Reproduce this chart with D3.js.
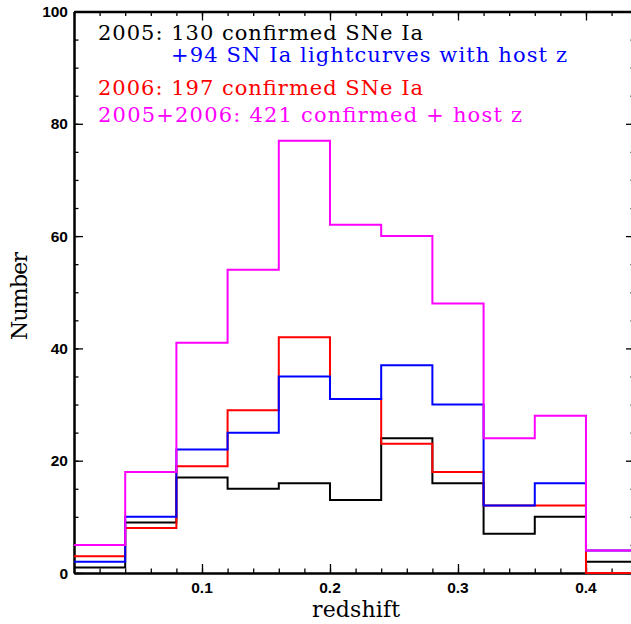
<!DOCTYPE html>
<html>
<head>
<meta charset="utf-8">
<script src="https://cdn.jsdelivr.net/npm/d3@7"></script>
<style>
  html, body { margin: 0; padding: 0; background: #fff; }
  svg { display: block; }
</style>
</head>
<body>
<svg id="chart" width="631" height="624"></svg>
<script>
// ---- data ----
const binEdges = [0, 0.04, 0.08, 0.12, 0.16, 0.20, 0.24, 0.28, 0.32, 0.36, 0.40, 0.44];
const black2005 = [1, 9, 17, 15, 16, 13, 24, 16, 7, 10, 2];
const red2006 = [3, 8, 19, 29, 42, 31, 23, 18, 12, 12, 0];
const blue2005host = [2, 10, 22, 25, 35, 31, 37, 30, 12, 16, 4];
const magentaAll = [5, 18, 41, 54, 77, 62, 60, 48, 24, 28, 4];
const xTickLabels = ["0.1", "0.2", "0.3", "0.4"];
const xTickValues = [0.1, 0.2, 0.3, 0.4];
const yTickValues = [0, 20, 40, 60, 80, 100];
const legendLines = [
  "2005: 130 confirmed SNe Ia",
  "+94 SN Ia lightcurves with host z",
  "2006: 197 confirmed SNe Ia",
  "2005+2006: 421 confirmed + host z"
];

// ---- layout ----
const L = 74, R = 635, T = 11.5, B = 573;
const svg = d3.select("#chart");
const x = d3.scaleLinear().domain([0, 0.4383]).range([L, R]);
const y = d3.scaleLinear().domain([0, 100]).range([B, T]);

svg.append("defs").append("clipPath").attr("id", "clip")
  .append("rect").attr("x", L).attr("y", T).attr("width", R - L).attr("height", B - T + 2);

// ---- axes with inward ticks ----
const tickFont = "bold 15.5px 'Liberation Sans', Arial, sans-serif";
function styleAxis(g) {
  g.selectAll("path.domain").attr("stroke", "#000").attr("stroke-width", 2.5);
  g.selectAll(".tick line").attr("stroke", "#000").attr("stroke-width", 1.3);
}
const xMinor = d3.range(0, 0.44, 0.02);
const yMinor = d3.range(0, 101, 5);

// bottom
const gB = svg.append("g").attr("transform", `translate(0,${B})`);
gB.call(d3.axisTop(x).tickValues(xMinor).tickSize(4.5).tickFormat("").tickSizeOuter(0)).call(styleAxis);
gB.append("g").call(d3.axisTop(x).tickValues(xTickValues).tickSize(9).tickFormat("").tickSizeOuter(0))
  .call(g => g.select("path.domain").remove()).call(styleAxis);
gB.selectAll("text.xl").data(xTickValues).enter().append("text")
  .attr("class", "xl").attr("x", d => x(d)).attr("y", 19.5)
  .attr("text-anchor", "middle").style("font", tickFont).attr("fill", "#000")
  .text((d, i) => xTickLabels[i]);

// top
const gT = svg.append("g").attr("transform", `translate(0,${T})`);
gT.call(d3.axisBottom(x).tickValues(xMinor).tickSize(4.5).tickFormat("").tickSizeOuter(0)).call(styleAxis);
gT.append("g").call(d3.axisBottom(x).tickValues(xTickValues).tickSize(9).tickFormat("").tickSizeOuter(0))
  .call(g => g.select("path.domain").remove()).call(styleAxis);

// left
const gL = svg.append("g").attr("transform", `translate(${L},0)`);
gL.call(d3.axisRight(y).tickValues(yMinor).tickSize(4.5).tickFormat("").tickSizeOuter(0)).call(styleAxis);
gL.append("g").call(d3.axisRight(y).tickValues(yTickValues).tickSize(9).tickFormat("").tickSizeOuter(0))
  .call(g => g.select("path.domain").remove()).call(styleAxis);
gL.selectAll("text.yl").data(yTickValues).enter().append("text")
  .attr("class", "yl").attr("x", -6).attr("y", d => y(d)).attr("dy", "0.36em")
  .attr("text-anchor", "end").style("font", tickFont).attr("fill", "#000")
  .text(d => d);

// right
const gR = svg.append("g").attr("transform", `translate(${R},0)`);
gR.call(d3.axisLeft(y).tickValues(yMinor).tickSize(4.5).tickFormat("").tickSizeOuter(0)).call(styleAxis);
gR.append("g").call(d3.axisLeft(y).tickValues(yTickValues).tickSize(9).tickFormat("").tickSizeOuter(0))
  .call(g => g.select("path.domain").remove()).call(styleAxis);

// ---- histograms (step lines) ----
const line = d3.line().x(d => x(d[0])).y(d => y(d[1])).curve(d3.curveStepAfter);
function steps(vals) {
  const pts = vals.map((v, i) => [binEdges[i], v]);
  pts.push([binEdges[binEdges.length - 1], vals[vals.length - 1]]);
  return pts;
}
const series = [
  { vals: black2005, color: "#000000" },
  { vals: red2006, color: "#ff0000" },
  { vals: blue2005host, color: "#0000ff" },
  { vals: magentaAll, color: "#ff00ff" }
];
const gH = svg.append("g").attr("clip-path", "url(#clip)");
series.forEach(s => {
  gH.append("path").attr("d", line(steps(s.vals)))
    .attr("fill", "none").attr("stroke", s.color).attr("stroke-width", 2)
    .attr("stroke-linejoin", "miter");
});

// ---- axis titles ----
const titleFont = "22px 'DejaVu Serif', serif";
svg.append("text").attr("x", 356).attr("y", 617).attr("text-anchor", "middle")
  .style("font", titleFont).attr("fill", "#000").attr("textLength", 88).attr("lengthAdjust", "spacing")
  .text("redshift");
svg.append("text").attr("transform", "translate(27,296) rotate(-90)").attr("text-anchor", "middle")
  .style("font", titleFont).attr("fill", "#000").attr("textLength", 88).attr("lengthAdjust", "spacing")
  .text("Number");

// ---- legend ----
const legendSpec = [
  { x: 98, y: 39.5, w: 325, color: "#000000" },
  { x: 171, y: 61.5, w: 396, color: "#0000ff" },
  { x: 98, y: 94.5, w: 325, color: "#ff0000" },
  { x: 98, y: 121.5, w: 424, color: "#ff00ff" }
];
legendLines.forEach((t, i) => {
  const s = legendSpec[i];
  svg.append("text").attr("x", s.x).attr("y", s.y)
    .style("font", "21px 'DejaVu Serif', serif").attr("fill", s.color)
    .attr("textLength", s.w).attr("lengthAdjust", "spacing")
    .text(t);
});
</script>
</body>
</html>
